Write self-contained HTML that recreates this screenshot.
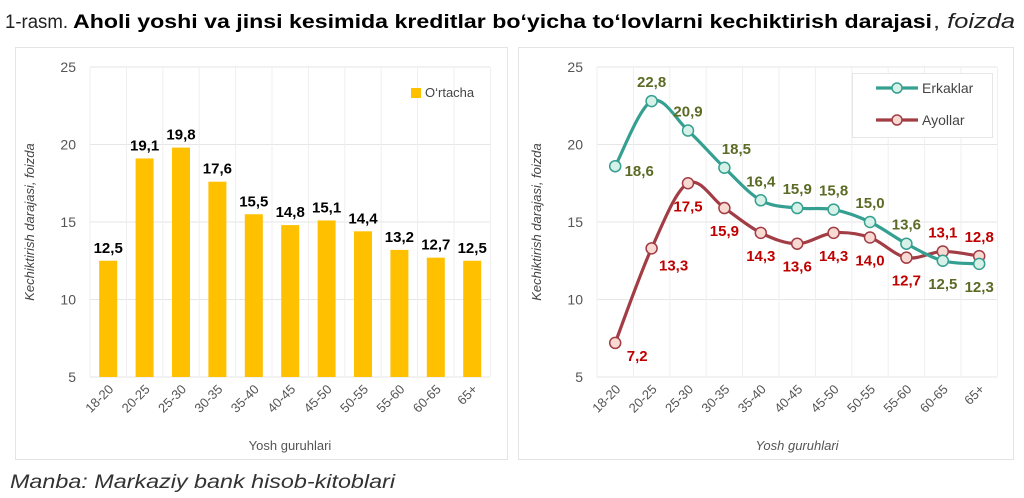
<!DOCTYPE html>
<html><head><meta charset="utf-8"><style>
body{margin:0;background:#fff;width:1024px;height:498px;overflow:hidden;font-family:"Liberation Sans",sans-serif}
svg{position:absolute;left:0;top:0}
</style></head><body>
<svg id="s" width="1024" height="498" viewBox="0 0 1024 498" font-family="Liberation Sans, sans-serif">
<text x="5" y="28" font-size="19" fill="#222" textLength="63" lengthAdjust="spacingAndGlyphs">1-rasm.</text>
<text x="73" y="28" font-size="19" font-weight="bold" fill="#000" textLength="859" lengthAdjust="spacingAndGlyphs">Aholi yoshi va jinsi kesimida kreditlar bo‘yicha to‘lovlarni kechiktirish darajasi</text>
<text x="933" y="28" font-size="20" fill="#222" textLength="82" lengthAdjust="spacingAndGlyphs">, <tspan font-style="italic">foizda</tspan></text>
<rect x="15.5" y="47.5" width="492" height="412" fill="#fff" stroke="#e4e4e4"/>
<rect x="518.5" y="47.5" width="495" height="412" fill="#fff" stroke="#e4e4e4"/>
<text x="10" y="488" font-size="19" font-style="italic" fill="#333" textLength="385" lengthAdjust="spacingAndGlyphs">Manba: Markaziy bank hisob-kitoblari</text>
<g id="g"></g>
</svg>
<script>
var g=document.getElementById('g'),h='';
function Y(v){return 377-(v-5)*15.5}
var cats=['18-20','20-25','25-30','30-35','35-40','40-45','45-50','50-55','55-60','60-65','65+'];
function axes(x0,italic){
 for(var v=5;v<=25;v+=5)h+='<line x1="'+x0+'" x2="'+(x0+400)+'" y1="'+Y(v)+'" y2="'+Y(v)+'" stroke="#e6e6e6"/>'+
 '<text x="'+(x0-14)+'" y="'+(Y(v)+5)+'" font-size="14" fill="#555" text-anchor="end">'+v+'</text>';
 for(var i=0;i<=11;i++){var x=x0+36.4*i;h+='<line x1="'+x+'" x2="'+x+'" y1="'+Y(25)+'" y2="'+Y(5)+'" stroke="#efefef"/>';}
 for(var i=0;i<11;i++){var x=x0+36.4*(i+0.5)+6;h+='<text transform="translate('+x+',390) rotate(-45)" font-size="13" fill="#555" text-anchor="end">'+cats[i]+'</text>';}
 h+='<text x="'+(x0+200)+'" y="450" font-size="13" fill="#555" text-anchor="middle"'+(italic?' font-style="italic"':'')+'>Yosh guruhlari</text>';
 h+='<text transform="translate('+(x0-56)+',222) rotate(-90)" font-size="13" fill="#444" font-style="italic" text-anchor="middle">Kechiktirish darajasi, foizda</text>';
}
axes(90,false);axes(597,true);
var b=[12.5,19.1,19.8,17.6,15.5,14.8,15.1,14.4,13.2,12.7,12.5];
b.forEach(function(v,i){var c=90+36.4*(i+0.5);h+='<rect x="'+(c-9)+'" y="'+Y(v)+'" width="18" height="'+(377-Y(v))+'" fill="#FFC000"/>'+
'<text x="'+c+'" y="'+(Y(v)-8)+'" font-size="15" font-weight="bold" text-anchor="middle">'+String(v.toFixed(1)).replace('.',',')+'</text>';});
h+='<rect x="411" y="88" width="10" height="10" fill="#FFC000"/><text x="425" y="97" font-size="13" fill="#444">O‘rtacha</text>';
function path(vals){var p=vals.map(function(v,i){return[597+36.4*(i+0.5),Y(v)]});var d='M'+p[0];
 for(var i=0;i<p.length-1;i++){var a=p[i-1]||p[i],b0=p[i],c=p[i+1],e=p[i+2]||c;
 d+=' C'+(b0[0]+(c[0]-a[0])/6)+','+(b0[1]+(c[1]-a[1])/6)+' '+(c[0]-(e[0]-b0[0])/6)+','+(c[1]-(e[1]-b0[1])/6)+' '+c[0]+','+c[1];}
 return [d,p];}
var E=[18.6,22.8,20.9,18.5,16.4,15.9,15.8,15.0,13.6,12.5,12.3],A=[7.2,13.3,17.5,15.9,14.3,13.6,14.3,14.0,12.7,13.1,12.8];
var Eo=[[24,10],[0,-14],[0,-14],[12,-14],[0,-14],[0,-14],[0,-14],[0,-14],[0,-14],[0,28],[0,28]];
var Ao=[[22,18],[22,22],[0,28],[0,28],[0,28],[0,28],[0,28],[0,28],[0,28],[0,-14],[0,-14]];
[[A,'#A23C45','#F9DAD3','#C00000',Ao],[E,'#35A091','#D6F1E8','#5B6B25',Eo]].forEach(function(s){
 var r=path(s[0]);h+='<path d="'+r[0]+'" fill="none" stroke="'+s[1]+'" stroke-width="3.2"/>';
 r[1].forEach(function(p,i){h+='<circle cx="'+p[0]+'" cy="'+p[1]+'" r="5.5" fill="'+s[2]+'" stroke="'+s[1]+'" stroke-width="1.5"/>'+
 '<text x="'+(p[0]+s[4][i][0])+'" y="'+(p[1]+s[4][i][1])+'" font-size="15" font-weight="bold" fill="'+s[3]+'" text-anchor="middle">'+s[0][i].toFixed(1).replace('.',',')+'</text>';});
});
h+='<rect x="852.5" y="73.5" width="140" height="64" fill="#fff" stroke="#e6e6e6"/>';
h+='<line x1="876" x2="918" y1="88" y2="88" stroke="#35A091" stroke-width="3.2"/><circle cx="897" cy="88" r="5" fill="#D6F1E8" stroke="#35A091" stroke-width="1.5"/><text x="922" y="93" font-size="14" fill="#444">Erkaklar</text>';
h+='<line x1="876" x2="918" y1="120" y2="120" stroke="#A23C45" stroke-width="3.2"/><circle cx="897" cy="120" r="5" fill="#F9DAD3" stroke="#A23C45" stroke-width="1.5"/><text x="922" y="125" font-size="14" fill="#444">Ayollar</text>';
g.innerHTML=h;
</script>
</body></html>
